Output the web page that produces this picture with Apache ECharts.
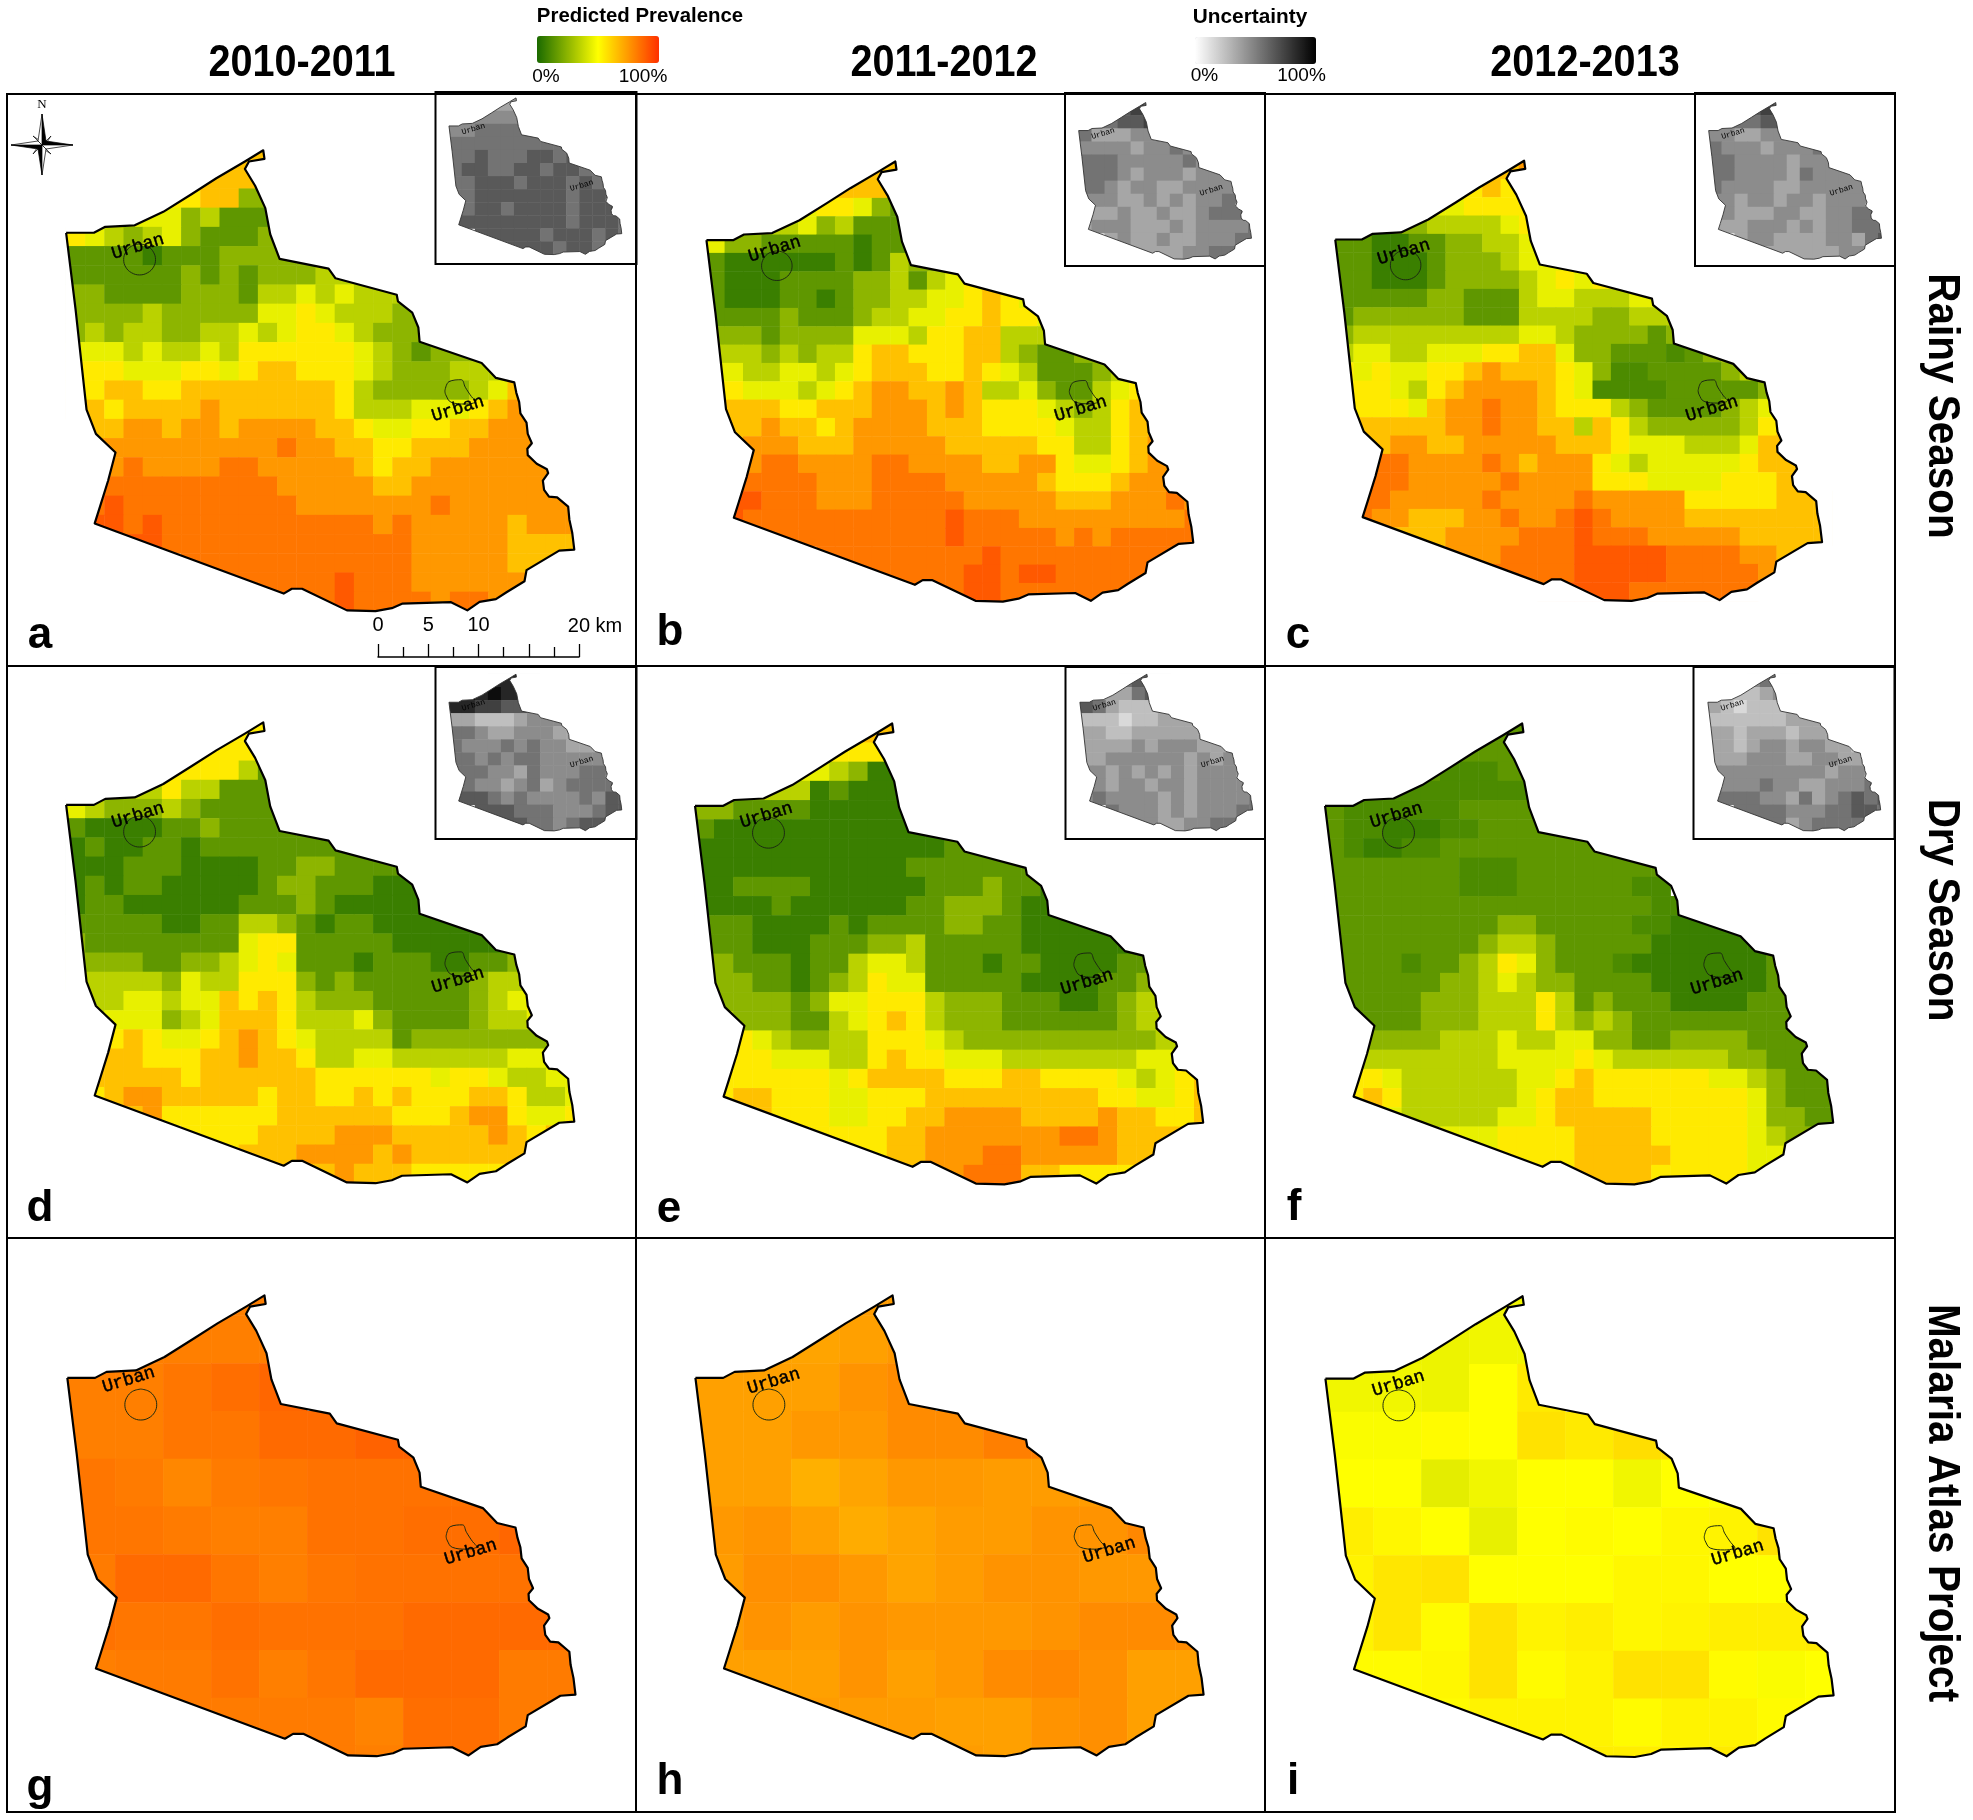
<!DOCTYPE html>
<html>
<head>
<meta charset="utf-8">
<title>Malaria prevalence maps</title>
<script src="https://cdn.jsdelivr.net/npm/echarts@6/dist/echarts.min.js"></script>
<style>html,body{margin:0;padding:0;background:#fff}#c{width:1973px;height:1820px}</style>
</head>
<body>
<div id="c"></div>
<script>
// ---------- titles ----------
const YEARS = ['2010-2011', '2011-2012', '2012-2013'];
const ROW_TITLES = ['Rainy Season', 'Dry Season', 'Malaria Atlas Project'];
const LETTERS = ['a', 'b', 'c', 'd', 'e', 'f', 'g', 'h', 'i'];
const LEGEND_LOW = '0%', LEGEND_HIGH = '100%';
const SCALE_TICKS = [0, 5, 10, 15, 20];

// ---------- class value (%) for each code letter used in the cell rows below ----------
const PREV_CLASSES = {'0':7,'a':11,'1':15,'2':25,'3':35,'4':45,'5':55,'6':65,'7':75,'8':83,'9':90};
const UNC_CLASSES = {'1':15,'2':25,'3':35,'4':45,'5':55,'6':65,'7':75,'8':85,'9':95};

// ---------- predicted prevalence, class code per cell, '.' = no cell ----------
const PREV_A = [
"........666................","......56666................","....4556622................","..444423111................",
"54323421112................","1111011122222..............","1111112121222333...........","2211112221334343333........",
"2222322222445433322........","23233223343455432222.......","4443433435555554321222.....","555444554566555432223334...",
"5566556666666653222223466..","6656666766666653334445677..",".667767767777665445566777..",".7777777777877665566677777.",
".7787777887777765667777777.",".8888888888777776677777777.",".89888888888777777787777777",".99898888888888878777776777",
"..8998888888888888777776666","......88888888888877777666.","........8888889888777777...","...........888988887887...."];
const PREV_B = [
"........666................","......66666................","....4455421................","..333423111................",
"42211111011................","1000000101322..............","1000111122313456...........","1000110122334456544........",
"1111211123344556554........","22212222444355663333.......","3332323356655566321122.....","443344345666556543111233...",
"5544434567766763342113455..","5666556667776765554323566..",".667665677776665555433566..",".6777666777776666655335677.",
".7788777788777766775445677.",".8888877788887777765556777.",".99888777888887777766677787",".98888888888898887777777778",
"..8888888888898888878788888","......88888888898888888888.","........8888889989988888...","...........888998888888...."];
const PREV_C = [
"........667................","......55655................","....3445555................","..222333345................",
"11001122334................","1100012223444..............","1100012222345455...........","1111122111344333444........",
"1222222111333322333........","23333333334432222122.......","344334445566422111a1233.....","545445567666542aa1111233...",
"55543567777654aaaa11111244..".slice(0,25),"6555467787765553211112345..",".666667787766365322222356..",".6677667777766654443334667.",
".7887777876777543444445666.",".7887777787777555444455566.",".88777778777787777755555666",".87766677877898777766666666",
"..7666777788898887777766666","......77788889999988887766.","........88888999998888877..","...........899998888888...."];
const PREV_D = [
"........555................","......55555................","....4555531................","..433533111................",
"43222321111................","1000011211111..............","0100110111111111...........","0001110000112211111........",
"0101100000122111000........","01100000011121000000.......","1111100113321011000000.....","211111111455111110000000...",
"2222112234541110111001122..","3333324335552121111112333..",".334434465653222111112345..",".3444234666533342111123344.",
".5565445676543333122222223.",".5665556676653344333333443.",".66666566666655555545543344",".56776666656655656555665334",
"..5675555556666665556775445","......55556666777666667656.","........5666777767666666...","...........666766655555...."];
const PREV_E = [
"........666................","......45555................","....4443200................","..333301000................",
"22111100000................","1000000000000..............","0000000000000111...........","0000000000011111111........",
"0011110000001112110........","00001000000112221000.......","1110000101111221100000.....","111000111223111110000000...",
"2211101134431110110000111..","3221101235441111100001123..",".222212445553222111001234..",".3222113456532221111112333.",
".5543223355543222222222233.",".5554443356554443333333444.",".55555545666655566555543456",".56655544555666666666554456",
"..5655544556677776666766556","......55556677777778876666.","........5566777887777766...","...........677888665555...."];
const PREV_F = [
"........111................","......11111................","....11aaa11................","..1aaaaaaaa................",
"1aaaaaa1111................","1aa000aa11111..............","1a00aa1111111111...........","1111111aaa111111111........",
"1111111aaa111111aa.........","11111111111111111aa0.......","1111111112211111aa0000.....","111111112332111110000000...",
"1111a1123542111a00000001 1".replace(' ',''),"1111112234322111100000011..",".111122233353121110000111..",".1111222333532321111111111.",
".2222233343344221122221111.",".3333333344445433333322111.",".55433333344565555554432111",".56533333345665555555542111",
"..4433333445666665555542211","......44455556666555554322.","........4555566666555544...","...........556666555554...."];

// ---------- Malaria Atlas Project prevalence, coarse cells (%) ----------
const MAP_G = [
[null,null,null,81,81,null,null,null,null,null,null],
[null,81,81,81,81,null,null,null,null,null,null],
[81,81,83,85,87,null,null,null,null,null,null],
[81,81,83,83,86,86,88,88,null,null,null],
[83,82,79,82,83,84,84,84,84,null,null],
[83,83,82,81,81,84,84,85,85,87,null],
[82,86,86,83,81,83,84,84,84,84,null],
[84,83,83,85,84,84,84,86,86,86,86],
[81,82,82,84,81,83,86,86,86,82,82],
[null,null,82,82,82,82,80,85,85,82,82],
[null,null,null,null,null,82,81,85,85,null,null]];
const MAP_H = [
[null,null,null,74,74,null,null,null,null,null,null],
[null,72,72,73,75,null,null,null,null,null,null],
[73,73,73,76,78,null,null,null,null,null,null],
[73,73,75,75,78,78,81,81,null,null,null],
[73,73,69,72,75,75,74,74,74,null,null],
[75,76,73,70,72,74,74,76,76,79,null],
[74,77,77,75,72,74,76,76,75,75,null],
[74,76,74,76,75,75,75,76,78,78,78],
[73,73,73,76,73,75,78,79,77,73,73],
[null,null,74,74,74,73,73,76,77,73,73],
[null,null,null,null,null,74,73,75,77,null,null]];
const MAP_I = [
[null,null,null,47,47,null,null,null,null,null,null],
[null,46,46,47,47,null,null,null,null,null,null],
[47,47,46,50,55,null,null,null,null,null,null],
[49,49,51,50,57,55,58,58,null,null,null],
[50,50,44,47,50,50,47,50,50,null,null],
[54,52,50,45,50,51,50,52,53,57,null],
[53,56,57,50,50,50,52,52,50,50,null],
[53,56,51,57,53,54,52,53,54,54,55],
[51,51,52,57,51,53,57,57,51,49,50],
[null,null,51,53,53,53,51,53,53,51,50],
[null,null,null,null,null,54,54,53,55,null,null]];

// ---------- uncertainty insets, class code per cell ----------
const UNC_A = ["...3333.......",".4444444......","44555555......","55555555555...","556555665655..","5665566566555.","5566656665656.","55666666656666","55665666656666","66666666656665","..666665666565","....66665665.."];
const UNC_B = ["...6766.......",".5566766......","53334454......","44443445455...","5554444454455.","5554344434445.","5543443344445.","44433434344555","43343343345555","34443334344445","..343343344455","....33334455.."];
const UNC_C = ["...6765.......",".5556665......","44334444......","54443444544...","5544443444435.","5544443544444.","5444433444445.","44344344344445","44333443344555","33344434344555","..344333344356","....33333344.."];
const UNC_D = ["...8888.......",".9898877......","88776655......","33222344445...","5543344433222.","5444545443334.","5545455444445.","55544354445555","55443453455555","66654544445466","..666555444566","....66554566.."];
const UNC_E = ["...5666.......",".3335665......","65322233......","22212233344...","3322333333222.","3333434443334.","3344444434344.","44343434344445","44344344344445","45444434344445","..544434344455","....44334455.."];
const UNC_F = ["...4555.......",".2223443......","32122233......","22222233333...","3323332333222.","3323443443323.","3334443344333.","44444444434445","44445443344455","55554435345656","..555544455665","....55345555.."];

// ---------- district outline and urban areas (map units) ----------
const OUTLINE_X = [162,230,258,330,400,470,530,600,645,648,610,600,625,650,662,685,805,822,972,975,1010,1025,1028,1180,1215,1260,1265,1272,1275,1290,1293,1303,1292,1293,1315,1340,1343,1330,1333,1345,1365,1392,1395,1402,1407,1370,1290,1285,1240,1215,1175,1145,1105,985,960,920,850,740,715,695,232,245,265,283,235,212,185,162];
const OUTLINE_Y = [396,396,380,376,340,292,250,205,175,198,205,225,270,330,400,466,492,518,562,580,610,650,688,745,785,797,825,850,880,905,935,960,975,992,1015,1030,1040,1060,1085,1103,1105,1130,1165,1200,1245,1248,1300,1330,1360,1378,1385,1408,1386,1390,1402,1410,1408,1350,1350,1363,1175,1130,1060,985,935,870,600,396];
const URBAN1_X = [342,362,376,381,376,362,342,322,308,303,308,322,342];
const URBAN1_Y = [426,432,448,468,488,503,509,503,488,468,448,432,426];
const URBAN2_X = [1090,1100,1130,1140,1155,1165,1140,1105,1092,1090];
const URBAN2_Y = [820,795,790,810,835,848,855,850,830,820];

// ---------- assembling ----------
const KX = 2.45, KY = 2.68;
const PANELS = [
 {rows:PREV_A, frame:[7,94,629,572],     dx:0,      dy:85,     sx:1,    sy:1,    letter:[40,636],    u1:[338,433],u2:[1122,868], inset:{rows:UNC_A,frame:[435.5,92,201,172],dx:426.5,dy:75.7}},
 {rows:PREV_B, frame:[636,94,629,572],   dx:643.1,  dy:99.1,   sx:.958, sy:.955, letter:[670,633],   u1:[342,440],u2:[1092,868], inset:{rows:UNC_B,frame:[1065,93,200,173],dx:1056.2,dy:80.3}},
 {rows:PREV_C, frame:[1265,94,630,572],  dx:1271.9, dy:98.4,   sx:.958, sy:.955, letter:[1298,636],  u1:[340,448],u2:[1095,868], inset:{rows:UNC_C,frame:[1695,93,200,173],dx:1686.2,dy:80.3}},
 {rows:PREV_D, frame:[7,666,629,572],    dx:0,      dy:657.1,  sx:1,    sy:1,    letter:[40,1209],   u1:[338,403],u2:[1122,845], inset:{rows:UNC_D,frame:[435.5,667,201,172],dx:426.5,dy:652}},
 {rows:PREV_E, frame:[636,666,629,572],  dx:628.9,  dy:658.2,  sx:1,    sy:1,    letter:[669,1210],  u1:[322,403],u2:[1107,850], inset:{rows:UNC_E,frame:[1065.5,667,199.5,172],dx:1057.4,dy:652}},
 {rows:PREV_F, frame:[1265,666,630,572], dx:1258.9, dy:658.2,  sx:1,    sy:1,    letter:[1294,1208], u1:[322,403],u2:[1107,850], inset:{rows:UNC_F,frame:[1693.5,667,201,172],dx:1685.4,dy:652}},
 {grid:MAP_G,  frame:[7,1238,629,574],   dx:1.2,    dy:1230.1, sx:1,    sy:1,    letter:[40,1788],   u1:[315,388],u2:[1153,850]},
 {grid:MAP_H,  frame:[636,1238,629,574], dx:629.3,  dy:1230.1, sx:1,    sy:1,    letter:[670,1782],  u1:[340,392],u2:[1162,845]},
 {grid:MAP_I,  frame:[1265,1238,630,574],dx:1259.3, dy:1230.9, sx:1,    sy:1,    letter:[1293,1782], u1:[327,398],u2:[1158,852]}
];

const grids = [], xAxes = [], yAxes = [], series = [], graphics = [];
const prevIdx = [], uncIdx = [];
const zipPts = (xs, ys) => xs.map((x, i) => [x, ys[i]]);
const outline = zipPts(OUTLINE_X, OUTLINE_Y);
const hidden = {axisLine:{show:false},axisTick:{show:false},axisLabel:{show:false},splitLine:{show:false}};

function addHeat(cells, nCols, nRows, rect, z, idxList) {
  const g = grids.length;
  grids.push({left:rect[0], top:rect[1], width:rect[2], height:rect[3], show:false, z:z});
  const cats = n => Array.from({length:n}, (_, i) => String(i));
  xAxes.push({type:'category', gridIndex:g, data:cats(nCols), show:false, boundaryGap:true});
  yAxes.push({type:'category', gridIndex:g, data:cats(nRows), show:false, inverse:true, boundaryGap:true});
  idxList.push(series.length);
  series.push({type:'heatmap', xAxisIndex:g, yAxisIndex:g, data:cells, z:z, silent:true, progressive:0,
    emphasis:{disabled:true}, itemStyle:{borderWidth:0}});
}
function codeCells(rows, classes) {
  const out = [];
  rows.forEach((r, j) => { for (let i = 0; i < r.length; i++) if (r[i] !== '.') out.push([i, j, classes[r[i]]]); });
  return out;
}
function numericCells(rows) {
  const out = [];
  rows.forEach((r, j) => r.forEach((v, i) => { if (v !== null) out.push([i, j, v]); }));
  return out;
}
function addOverlay(frame, dx, dy, sx, sy, heatRect, z, lineW, lineColor, frameW, withUrban) {
  const g = grids.length;
  grids.push({left:frame[0], top:frame[1], width:frame[2], height:frame[3], show:true, z:z+3,
    borderColor:'#000', borderWidth:frameW, backgroundColor:'transparent'});
  xAxes.push(Object.assign({type:'value', gridIndex:g, show:false,
    min:(frame[0]-dx)/sx*KX, max:(frame[0]+frame[2]-dx)/sx*KX}, hidden));
  yAxes.push(Object.assign({type:'value', gridIndex:g, show:false, inverse:true,
    min:(frame[1]-dy)/sy*KY, max:(frame[1]+frame[3]-dy)/sy*KY}, hidden));
  // white surround that trims the cells to the district outline
  series.push({type:'custom', coordinateSystem:'cartesian2d', xAxisIndex:g, yAxisIndex:g, z:z+1, silent:true, clip:false,
    data:[[outline[0][0], outline[0][1]]], encode:{x:0,y:1},
    renderItem:function (params, api) {
      const [l,t,w,h] = heatRect;
      let d = 'M'+(l-1)+' '+(t-1)+'L'+(l-1)+' '+(t+h+1)+'L'+(l+w+1)+' '+(t+h+1)+'L'+(l+w+1)+' '+(t-1)+'Z';
      outline.forEach((p, i) => { const c = api.coord(p); d += (i ? 'L' : 'M') + c[0].toFixed(2) + ' ' + c[1].toFixed(2); });
      d += 'Z';
      return {type:'path', shape:{pathData:d}, style:{fill:'#fff', stroke:null}};
    }});
  series.push({type:'line', xAxisIndex:g, yAxisIndex:g, data:outline, showSymbol:false, symbol:'none', z:z+2, silent:true, clip:false,
    lineStyle:{color:lineColor, width:lineW, join:'round'}});
  if (withUrban) {
    [zipPts(URBAN1_X,URBAN1_Y), zipPts(URBAN2_X,URBAN2_Y)].forEach(d => series.push({type:'line', xAxisIndex:g, yAxisIndex:g, data:d,
      smooth:.4, symbol:'none', showSymbol:false, z:z+2, silent:true, lineStyle:{color:'#1c2a12', width:1}}));
  }
}
function text(x, y, str, font, opts, styleExtra) {
  graphics.push(Object.assign({type:'text', x:x, y:y, z:200, silent:true,
    style:Object.assign({text:str, font:font, fill:'#000', align:'center', verticalAlign:'middle', textAlign:'center', textVerticalAlign:'middle'}, styleExtra||{})}, opts||{}));
}

const MONO = '"Liberation Mono", "DejaVu Sans Mono", monospace';
PANELS.forEach((p, n) => {
  let rect;
  if (p.rows) {
    rect = [p.sx*162/KX+p.dx, p.sy*175/KY+p.dy, p.sx*27*19.2, p.sy*24*19.2];
    addHeat(codeCells(p.rows, PREV_CLASSES), 27, 24, rect, 1, prevIdx);
  } else {
    rect = [162/KX+p.dx, 101/KY+p.dy, 11*48, 11*47.8];
    addHeat(numericCells(p.grid), 11, 11, rect, 1, prevIdx);
  }
  addOverlay(p.frame, p.dx, p.dy, p.sx, p.sy, rect, 1, 2.2, '#000', 2, true);
  const rot = 17*Math.PI/180;
  const orig = [[0,85],[635,85],[1265,85],[0,665],[635,665],[1265,665],[0,1235],[635,1235],[1265,1235]][n];
  const ink = {stroke:'#000', lineWidth:.45};
  text(orig[0]+p.u1[0]/KX, orig[1]+p.u1[1]/KY, 'Urban', '18px ' + MONO, {rotation:rot}, ink);
  text(orig[0]+p.u2[0]/KX, orig[1]+p.u2[1]/KY, 'Urban', '18px ' + MONO, {rotation:rot}, ink);
  text(p.letter[0], p.letter[1], LETTERS[n], 'bold 44px "Liberation Sans", Arial, sans-serif');
  if (p.inset) {
    const s = .34, q = p.inset;
    const ir = [s*162/KX+q.dx, s*175/KY+q.dy, s*14*38.37, s*12*38.43];
    addHeat(codeCells(q.rows, UNC_CLASSES), 14, 12, ir, 10, uncIdx);
    addOverlay(q.frame, q.dx, q.dy, s, s, ir, 10, .9, '#333', 2, false);
    const ux = u => s*u/KX+q.dx, uy = v => s*v/KY+q.dy;
    text(ux(338), uy(420), 'Urban', '8px ' + MONO, {rotation:rot});
    text(ux(1118), uy(866), 'Urban', '8px ' + MONO, {rotation:rot});
  }
});

// scale bar drawn by its own value axis (km)
{
  const g = grids.length;
  grids.push({left:378, top:656, width:201, height:1, show:false, z:20});
  xAxes.push({type:'value', gridIndex:g, min:0, max:20, interval:5, position:'bottom',
    axisLine:{show:true, onZero:false, lineStyle:{color:'#000', width:1.5}},
    axisTick:{show:true, inside:true, length:13, lineStyle:{color:'#000', width:1.3}},
    minorTick:{show:true, splitNumber:2, length:10, lineStyle:{color:'#000', width:1.3}},
    splitLine:{show:false}, minorSplitLine:{show:false},
    axisLabel:{inside:true, margin:22, color:'#000', fontSize:20, fontFamily:'"Liberation Sans", Arial, sans-serif',
      formatter:v => (v === 15 || v === 20) ? '' : String(v)}});
  yAxes.push(Object.assign({type:'value', gridIndex:g, show:false, min:0, max:1}, hidden));
  series.push({type:'line', xAxisIndex:g, yAxisIndex:g, data:[], silent:true});
  text(595, 626, SCALE_TICKS[4] + ' km', '20px "Liberation Sans", Arial, sans-serif');
}

// titles
const SANS = '"Liberation Sans", Arial, sans-serif';
[302, 944, 1585].forEach((x, i) => text(x, 64, YEARS[i], 'bold 44px ' + SANS, {scaleX:.9}));
[406, 910, 1503].forEach((y, i) => text(1941, y, ROW_TITLES[i], 'bold 44px ' + SANS, {rotation:-Math.PI/2, scaleX:.92}));
text(640, 16, 'Predicted Prevalence', 'bold 20.4px ' + SANS);
text(1250, 17, 'Uncertainty', 'bold 20.8px ' + SANS);
text(546, 77, LEGEND_LOW, '19px ' + SANS);
text(643, 77, LEGEND_HIGH, '19px ' + SANS);
text(1204.5, 76, LEGEND_LOW, '19px ' + SANS);
text(1301.5, 76, LEGEND_HIGH, '19px ' + SANS);

// compass rose
const CX = 42, CY = 145;
const poly = (pts, fill) => graphics.push({type:'polygon', z:200, silent:true,
  shape:{points:pts.map(p => [CX+p[0], CY+p[1]])}, style:{fill:fill, stroke:'#000', lineWidth:.7}});
[[[-9,-9],[0,0],[-3,0],[0,-3]],[[9,-9],[0,0],[0,-3],[3,0]],[[9,9],[0,0],[3,0],[0,3]],[[-9,9],[0,0],[0,3],[-3,0]]].forEach(p => poly(p,'#fff'));
poly([[0,-31],[4,-4],[0,0]],'#000'); poly([[0,-31],[-4,-4],[0,0]],'#fff');
poly([[0,30],[-4,4],[0,0]],'#000');  poly([[0,30],[4,4],[0,0]],'#fff');
poly([[-31,0],[-4,4],[0,0]],'#000'); poly([[-31,0],[-4,-4],[0,0]],'#fff');
poly([[31,0],[4,-4],[0,0]],'#000');  poly([[31,0],[4,4],[0,0]],'#fff');
text(42, 105, 'N', '13px "Liberation Serif", "Times New Roman", serif');

const chart = echarts.init(document.getElementById('c'), null, {renderer:'canvas', width:1973, height:1820});
chart.setOption({
  animation:false,
  backgroundColor:'#fff',
  grid:grids, xAxis:xAxes, yAxis:yAxes, series:series, graphic:{elements:graphics},
  tooltip:{show:false},
  visualMap:[
    {type:'continuous', min:0, max:100, dimension:2, seriesIndex:prevIdx, show:true, calculable:false, hoverLink:false,
     orient:'horizontal', left:537, top:36, itemWidth:27, itemHeight:122, text:null, padding:0, showLabel:false,
     inRange:{color:['#1a6a00','#ffff00','#ff3000']}},
    {type:'continuous', min:0, max:100, dimension:2, seriesIndex:uncIdx, show:true, calculable:false, hoverLink:false,
     orient:'horizontal', left:1195, top:37, itemWidth:27, itemHeight:121, text:null, padding:0, showLabel:false,
     inRange:{color:['#ffffff','#000000']}}
  ]
});
</script>
</body>
</html>
